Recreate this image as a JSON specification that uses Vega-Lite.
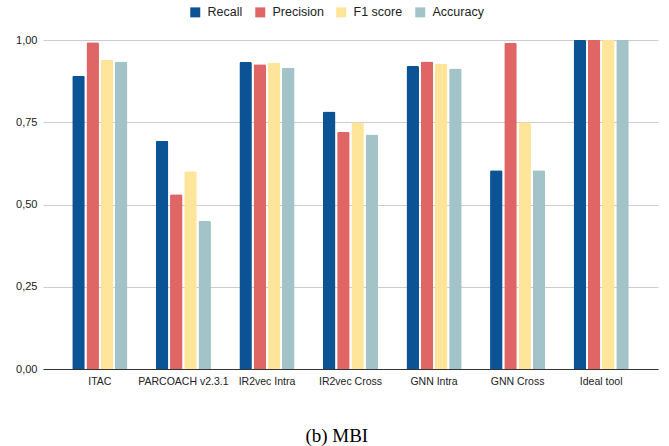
{
  "$schema": "https://vega.github.io/schema/vega-lite/v6.json",
  "width": 615,
  "height": 329,
  "autosize": "none",
  "padding": {"left": 43, "top": 40, "right": 11, "bottom": 77},
  "background": "white",
  "title": {
    "text": "(b) MBI",
    "orient": "bottom",
    "anchor": "middle",
    "frame": "bounds",
    "font": "Liberation Serif",
    "fontSize": 19,
    "fontWeight": "normal",
    "color": "#000000",
    "offset": 40
  },
  "data": {
    "values": [
      {"tool": "ITAC", "metric": "Recall", "value": 0.891},
      {"tool": "ITAC", "metric": "Precision", "value": 0.993},
      {"tool": "ITAC", "metric": "F1 score", "value": 0.940},
      {"tool": "ITAC", "metric": "Accuracy", "value": 0.935},
      {"tool": "PARCOACH v2.3.1", "metric": "Recall", "value": 0.694},
      {"tool": "PARCOACH v2.3.1", "metric": "Precision", "value": 0.531},
      {"tool": "PARCOACH v2.3.1", "metric": "F1 score", "value": 0.601},
      {"tool": "PARCOACH v2.3.1", "metric": "Accuracy", "value": 0.450},
      {"tool": "IR2vec Intra", "metric": "Recall", "value": 0.933},
      {"tool": "IR2vec Intra", "metric": "Precision", "value": 0.926},
      {"tool": "IR2vec Intra", "metric": "F1 score", "value": 0.931},
      {"tool": "IR2vec Intra", "metric": "Accuracy", "value": 0.916},
      {"tool": "IR2vec Cross", "metric": "Recall", "value": 0.783},
      {"tool": "IR2vec Cross", "metric": "Precision", "value": 0.720},
      {"tool": "IR2vec Cross", "metric": "F1 score", "value": 0.750},
      {"tool": "IR2vec Cross", "metric": "Accuracy", "value": 0.713},
      {"tool": "GNN Intra", "metric": "Recall", "value": 0.921},
      {"tool": "GNN Intra", "metric": "Precision", "value": 0.935},
      {"tool": "GNN Intra", "metric": "F1 score", "value": 0.928},
      {"tool": "GNN Intra", "metric": "Accuracy", "value": 0.913},
      {"tool": "GNN Cross", "metric": "Recall", "value": 0.604},
      {"tool": "GNN Cross", "metric": "Precision", "value": 0.991},
      {"tool": "GNN Cross", "metric": "F1 score", "value": 0.750},
      {"tool": "GNN Cross", "metric": "Accuracy", "value": 0.604},
      {"tool": "Ideal tool", "metric": "Recall", "value": 1.0},
      {"tool": "Ideal tool", "metric": "Precision", "value": 1.0},
      {"tool": "Ideal tool", "metric": "F1 score", "value": 1.0},
      {"tool": "Ideal tool", "metric": "Accuracy", "value": 1.0}
    ]
  },
  "mark": {"type": "bar", "cornerRadiusTopLeft": 1.5, "cornerRadiusTopRight": 1.5},
  "encoding": {
    "x": {
      "field": "tool",
      "type": "nominal",
      "sort": null,
      "scale": {"paddingInner": 0.34, "paddingOuter": 0.35},
      "axis": {
        "title": null,
        "labelAngle": 0,
        "labelFont": "Liberation Sans",
        "labelFontSize": 10.5,
        "labelColor": "#222222",
        "labelPadding": 7,
        "ticks": false,
        "domainColor": "#333333",
        "domainWidth": 1
      }
    },
    "xOffset": {
      "field": "metric",
      "type": "nominal",
      "sort": ["Recall", "Precision", "F1 score", "Accuracy"],
      "scale": {"paddingInner": 0.12}
    },
    "y": {
      "field": "value",
      "type": "quantitative",
      "scale": {"domain": [0, 1], "nice": false},
      "axis": {
        "title": null,
        "values": [0, 0.25, 0.5, 0.75, 1],
        "labelExpr": "replace(format(datum.value, '.2f'), '.', ',')",
        "labelFont": "Liberation Sans",
        "labelFontSize": 11,
        "labelColor": "#222222",
        "labelPadding": 6,
        "ticks": false,
        "domain": false,
        "gridColor": "#cccccc",
        "gridWidth": 1
      }
    },
    "color": {
      "field": "metric",
      "type": "nominal",
      "sort": ["Recall", "Precision", "F1 score", "Accuracy"],
      "scale": {
        "domain": ["Recall", "Precision", "F1 score", "Accuracy"],
        "range": ["#0b5394", "#e06666", "#ffe599", "#a2c4c9"]
      },
      "legend": {
        "title": null,
        "orient": "none",
        "legendX": 146,
        "legendY": -34,
        "direction": "horizontal",
        "symbolType": "square",
        "symbolSize": 100,
        "symbolStrokeWidth": 0,
        "labelFont": "Liberation Sans",
        "labelFontSize": 12.5,
        "labelColor": "#222222",
        "labelOffset": 6,
        "columnPadding": 11
      }
    }
  },
  "config": {
    "view": {"stroke": null}
  }
}
